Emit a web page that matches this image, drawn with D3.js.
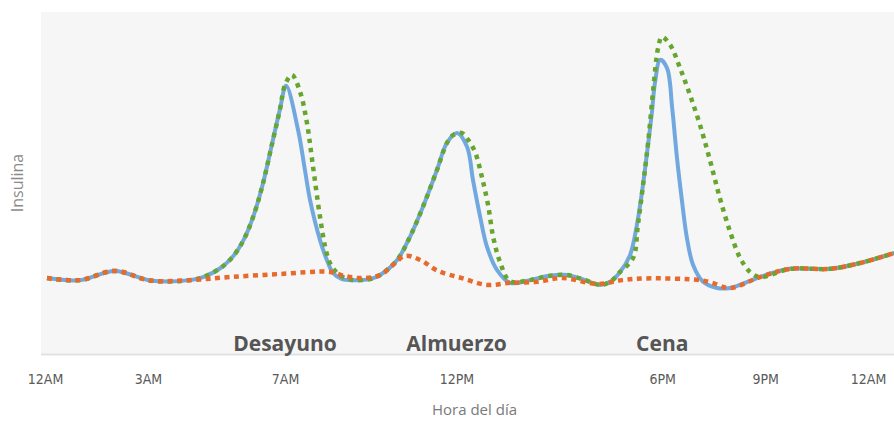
<!DOCTYPE html>
<html>
<head>
<meta charset="utf-8">
<script src="https://cdn.jsdelivr.net/npm/d3@7"></script>
<style>
  html, body { margin: 0; padding: 0; background: #ffffff; }
  svg { display: block; }
</style>
</head>
<body>
<svg id="chart" width="894" height="421"></svg>
<script>
// ---- Data (hours of day, insulin level in arbitrary units 0-100) ----
const tickHours = [0, 3, 7, 12, 18, 21, 24];
const tickLabels = ["12AM", "3AM", "7AM", "12PM", "6PM", "9PM", "12AM"];

const mealHours = [7, 12, 18];
const mealLabels = ["Desayuno", "Almuerzo", "Cena"];

// Solid blue curve
const blueHours  = [0.06, 1.02, 2.04, 3.06, 4.23, 4.61, 5.10, 5.48, 5.80, 6.10, 6.36, 6.60, 6.85, 7.03, 7.38, 7.58, 7.73, 8.02, 8.22, 8.40, 8.66, 9.04, 9.48, 9.77, 10.27, 10.64, 11.02, 11.43, 11.72, 12.02, 12.31, 12.48, 12.69, 12.89, 13.18, 13.56, 14.14, 14.67, 15.22, 15.75, 16.19, 16.48, 16.77, 17.06, 17.26, 17.41, 17.56, 17.70, 17.79, 17.94, 18.14, 18.29, 18.43, 18.58, 18.72, 18.90, 19.19, 19.60, 19.98, 20.85, 21.73, 22.89, 23.77, 24.76];
const blueValues = [22.2, 21.6, 24.3, 21.5, 21.6, 22.5, 25.0, 28.5, 33.5, 41.0, 50.0, 60.5, 71.5, 78.4, 65.5, 53.8, 45.0, 33.3, 27.5, 23.7, 21.9, 21.6, 21.9, 23.1, 27.5, 34.2, 43.0, 53.8, 61.7, 64.6, 60.5, 50.9, 40.1, 31.3, 24.6, 20.8, 21.6, 22.8, 23.1, 21.6, 20.2, 21.1, 24.0, 28.9, 37.7, 47.4, 59.1, 70.8, 79.5, 86.0, 83.6, 71.9, 57.3, 44.4, 33.9, 26.0, 21.1, 19.3, 19.3, 22.5, 24.9, 24.9, 26.6, 29.5];

// Green dotted curve
const greenHours  = [0.06, 1.02, 2.04, 3.06, 4.23, 4.61, 5.10, 5.48, 5.80, 6.10, 6.36, 6.60, 6.85, 7.00, 7.20, 7.44, 7.64, 7.79, 8.02, 8.17, 8.31, 8.52, 8.75, 9.04, 9.48, 9.77, 10.27, 10.64, 11.02, 11.43, 11.72, 11.90, 12.16, 12.34, 12.54, 12.74, 12.92, 13.07, 13.27, 13.56, 14.14, 14.67, 15.22, 15.75, 16.19, 16.48, 16.77, 17.15, 17.29, 17.44, 17.59, 17.73, 17.88, 17.99, 18.23, 18.52, 18.81, 19.10, 19.39, 19.68, 19.98, 20.27, 20.56, 20.85, 21.73, 22.89, 23.77, 24.76];
const greenValues = [22.2, 21.6, 24.3, 21.5, 21.6, 22.5, 25.0, 28.5, 33.5, 41.0, 50.0, 60.5, 71.5, 78.7, 81.6, 76.6, 67.5, 56.7, 40.1, 31.3, 26.6, 23.7, 22.2, 21.6, 21.9, 23.1, 27.5, 34.2, 43.0, 53.8, 61.7, 64.0, 64.6, 62.6, 59.1, 51.8, 43.6, 34.2, 26.9, 21.3, 21.6, 22.8, 23.1, 21.6, 20.2, 21.1, 24.0, 28.1, 37.7, 49.4, 62.0, 76.6, 89.5, 92.7, 90.4, 83.6, 75.7, 67.0, 56.7, 45.6, 35.7, 28.1, 24.0, 22.5, 24.9, 24.9, 26.6, 29.5];

// Orange dotted curve
const orangeHours  = [0.06, 1.02, 2.04, 3.06, 4.23, 5.40, 6.85, 8.31, 8.75, 9.24, 9.77, 10.18, 10.50, 10.94, 11.46, 12.16, 12.89, 13.56, 14.35, 15.08, 16.13, 16.83, 17.50, 19.10, 19.45, 19.98, 20.85, 21.73, 22.89, 23.77, 24.76];
const orangeValues = [22.2, 21.6, 24.3, 21.5, 21.6, 22.5, 23.4, 24.0, 22.8, 22.2, 23.1, 26.3, 28.7, 27.5, 24.3, 22.2, 20.2, 20.8, 21.1, 22.2, 20.5, 21.6, 22.1, 21.6, 20.8, 19.3, 22.5, 24.9, 24.9, 26.6, 29.5];

// ---- Layout ----
const svg = d3.select("#chart");
const plot = { left: 41, right: 894, top: 12, bottom: 354 };

const x = d3.scaleLinear().domain([0, 24]).range([45, 868]);
const y = d3.scaleLinear().domain([0, 100]).range([plot.bottom, plot.top]);

// background
svg.append("rect")
  .attr("x", plot.left).attr("y", plot.top)
  .attr("width", plot.right - plot.left).attr("height", plot.bottom - plot.top)
  .attr("fill", "#f6f6f6");

svg.append("line")
  .attr("x1", plot.left).attr("x2", plot.right)
  .attr("y1", plot.bottom + 0.5).attr("y2", plot.bottom + 0.5)
  .attr("stroke", "#e2e2e2").attr("stroke-width", 2);

// x axis (ticks hidden, labels only)
const xAxis = d3.axisBottom(x)
  .tickValues(tickHours)
  .tickFormat((d, i) => tickLabels[i])
  .tickSize(0)
  .tickPadding(0);

const gx = svg.append("g")
  .attr("transform", `translate(0, 374)`)
  .call(xAxis);
gx.select(".domain").remove();
gx.selectAll("text")
  .attr("font-family", "'DejaVu Sans Condensed', 'Liberation Sans Narrow', sans-serif")
  .attr("font-stretch", "condensed")
  .attr("font-size", 14)
  .attr("fill", "#5a5a5a");

// meal labels
svg.append("g").selectAll("text")
  .data(mealHours)
  .join("text")
  .attr("x", d => x(d))
  .attr("y", 351)
  .attr("text-anchor", "middle")
  .attr("font-family", "'Open Sans', 'DejaVu Sans', sans-serif")
  .attr("font-weight", "bold")
  .attr("font-size", 21)
  .attr("fill", "#555555")
  .text((d, i) => mealLabels[i]);

// axis titles
svg.append("text")
  .attr("x", x(12) + 18)
  .attr("y", 415)
  .attr("text-anchor", "middle")
  .attr("font-family", "'Open Sans', sans-serif")
  .attr("font-size", 15)
  .attr("fill", "#7a7a7a")
  .text("Hora del día");

svg.append("text")
  .attr("transform", "translate(23, 183) rotate(-90)")
  .attr("text-anchor", "middle")
  .attr("font-family", "'Open Sans', sans-serif")
  .attr("font-size", 16)
  .attr("fill", "#8a8a8a")
  .text("Insulina");

// ---- Lines ----
const line = d3.line()
  .x(d => x(d[0]))
  .y(d => y(d[1]))
  .curve(d3.curveCatmullRom.alpha(0.5));

const zip = (a, b) => a.map((v, i) => [v, b[i]]);

svg.append("path")
  .datum(zip(blueHours, blueValues))
  .attr("d", line)
  .attr("fill", "none")
  .attr("stroke", "#72a8e0")
  .attr("stroke-width", 4)
  .attr("stroke-linejoin", "round");

svg.append("path")
  .datum(zip(greenHours, greenValues))
  .attr("d", line)
  .attr("fill", "none")
  .attr("stroke", "#67a62e")
  .attr("stroke-width", 4.5)
  .attr("stroke-dasharray", "4.5,5");

svg.append("path")
  .datum(zip(orangeHours, orangeValues))
  .attr("d", line)
  .attr("fill", "none")
  .attr("stroke", "#e8692c")
  .attr("stroke-width", 4.5)
  .attr("stroke-dasharray", "5,4.5");
</script>
</body>
</html>
